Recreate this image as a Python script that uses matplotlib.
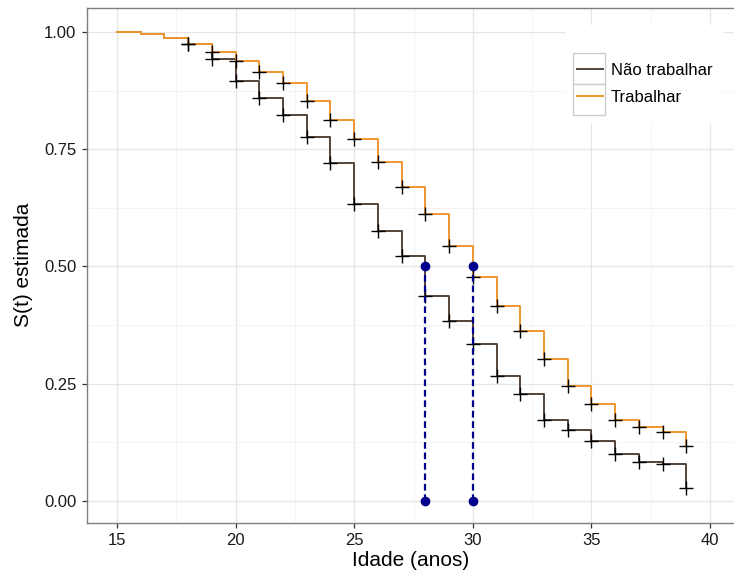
import matplotlib
matplotlib.use("Agg")
import matplotlib.pyplot as plt
from matplotlib.patches import Rectangle
from matplotlib.ticker import FixedLocator
import numpy as np

plt.rcParams['font.family'] = ['Liberation Sans', 'DejaVu Sans']

# ---- data ----
idade = [15, 16, 17, 18, 19, 20, 21, 22, 23, 24, 25, 26, 27,
         28, 29, 30, 31, 32, 33, 34, 35, 36, 37, 38, 39]
s_trabalhar = [1.000, 0.995, 0.988, 0.975, 0.957, 0.938, 0.915, 0.891, 0.852,
               0.812, 0.771, 0.723, 0.669, 0.612, 0.543, 0.477, 0.415, 0.362,
               0.303, 0.244, 0.206, 0.172, 0.157, 0.146, 0.117]
s_nao_trabalhar = [1.000, 0.995, 0.988, 0.975, 0.943, 0.896, 0.859, 0.822, 0.775,
                   0.721, 0.632, 0.576, 0.522, 0.436, 0.384, 0.334, 0.266, 0.228,
                   0.173, 0.151, 0.128, 0.100, 0.082, 0.078, 0.028]
censura_desde = 18          # censor marks from this age on
medianas = [28, 30]
nivel_mediana = 0.5
labels = ["Não trabalhar", "Trabalhar"]
x_ticks = [15, 20, 25, 30, 35, 40]
y_ticks = [0.00, 0.25, 0.50, 0.75, 1.00]

col_nao = '#54443a'
col_trab = '#f0962e'
col_med = '#00008b'

W, H = 734, 578
fig = plt.figure(figsize=(W / 100, H / 100), dpi=100)
ax = fig.add_axes([87 / W, 1 - 522.5 / H, 1 - 87 / W, (522.5 - 7.5) / H])

ax.set_xlim(13.735, 41.01)
ax.set_ylim(-0.046, 1.052)

# grid
ax.set_axisbelow(True)
ax.xaxis.set_major_locator(FixedLocator(x_ticks))
ax.yaxis.set_major_locator(FixedLocator(y_ticks))
ax.xaxis.set_minor_locator(FixedLocator([12.5, 17.5, 22.5, 27.5, 32.5, 37.5, 42.5]))
ax.yaxis.set_minor_locator(FixedLocator([0.125, 0.375, 0.625, 0.875]))
ax.grid(which='major', color='#e6e6e6', lw=0.9)
ax.grid(which='minor', color='#f3f3f3', lw=0.7)
ax.set_yticklabels([f"{v:.2f}" for v in y_ticks])

# curves
x = np.array(idade)
ln_nao, = ax.step(x, s_nao_trabalhar, where='post', color=col_nao, lw=1.4, zorder=3)
ln_trab, = ax.step(x, s_trabalhar, where='post', color=col_trab, lw=1.4, zorder=3)

mask = x >= censura_desde
ax.plot(x[mask], np.array(s_nao_trabalhar)[mask], ls='none', marker='+',
        ms=10.5, mew=1.0, color='black', zorder=4)
ax.plot(x[mask], np.array(s_trabalhar)[mask], ls='none', marker='+',
        ms=10.5, mew=1.0, color='black', zorder=4)

# medians
for m in medianas:
    ax.plot([m, m], [0, nivel_mediana], color=col_med, lw=1.6,
            ls=(0, (3.0, 1.7)), zorder=5)
    ax.plot([m, m], [0, nivel_mediana], ls='none', marker='o', ms=6,
            color=col_med, zorder=6)

# spines
for s in ['left', 'bottom', 'top']:
    ax.spines[s].set_color('#7f7f7f')
    ax.spines[s].set_linewidth(1.0)
ax.spines['right'].set_visible(False)

ax.tick_params(which='major', length=3.6, width=0.9, color='#333333',
               labelsize=12, labelcolor='#1a1a1a', pad=4)
ax.tick_params(which='minor', length=0)

ax.set_xlabel("Idade (anos)", fontsize=15, labelpad=2)
ax.set_ylabel("S(t) estimada", fontsize=15, labelpad=8)

# legend background and key boxes
ax.add_patch(Rectangle((566 / W, 1 - 123 / H), (723 - 566) / W, (123 - 25) / H,
                       transform=fig.transFigure, facecolor='white',
                       edgecolor='none', zorder=1.5, clip_on=False))
for top in (52.7, 84.0):
    ax.add_patch(Rectangle((573 / W, 1 - (top + 31) / H), 32 / W, 31 / H,
                           transform=fig.transFigure, facecolor='white',
                           edgecolor='#cccccc', lw=1.0, zorder=1.6, clip_on=False))

leg = ax.legend([ln_nao, ln_trab], labels, loc='center left',
                bbox_to_anchor=(576.5 / W, 1 - 84 / H),
                bbox_transform=fig.transFigure, frameon=False,
                fontsize=12, handlelength=1.6, handletextpad=0.45,
                labelspacing=0.72, borderpad=0, borderaxespad=0)
leg.set_zorder(7)

fig.savefig("out.png", dpi=100)
